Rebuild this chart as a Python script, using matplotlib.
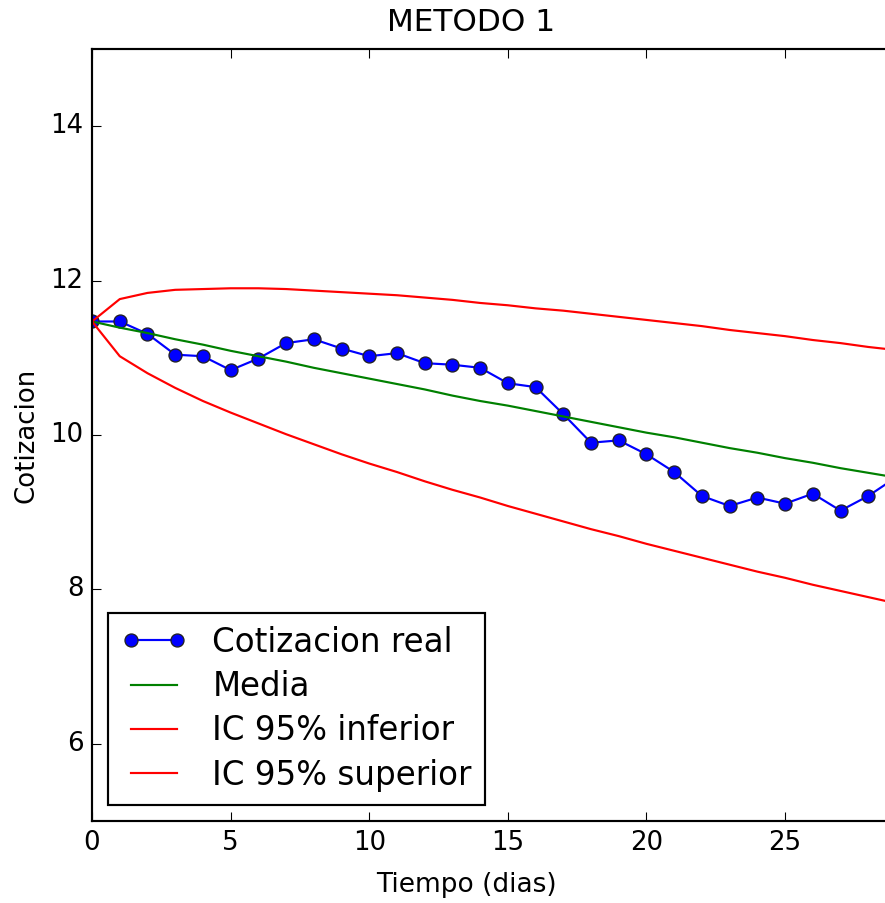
#!/usr/bin/env python3

import matplotlib
matplotlib.use("Agg")
import matplotlib.pyplot as plt


# dias observados y cotizacion real
DIAS_REAL = list(range(0, 30))
COTIZACION_REAL = [
    11.47, 11.47, 11.31, 11.04, 11.02, 10.84, 10.99, 11.19, 11.24, 11.12,
    11.02, 11.06, 10.93, 10.91, 10.87, 10.67, 10.62, 10.27, 9.90, 9.93,
    9.75, 9.52, 9.21, 9.08, 9.19, 9.11, 9.24, 9.02, 9.21, 9.45,
]

# horizonte de la simulacion
DIAS_SIM = list(range(0, 31))
MEDIA = [
    11.47, 11.39, 11.32, 11.24, 11.17, 11.09, 11.02, 10.95, 10.87, 10.80,
    10.73, 10.66, 10.59, 10.51, 10.44, 10.38, 10.31, 10.24, 10.17, 10.10,
    10.03, 9.97, 9.90, 9.83, 9.77, 9.70, 9.64, 9.57, 9.51, 9.45, 9.38,
]
IC_INFERIOR = [
    11.47, 11.02, 10.80, 10.61, 10.44, 10.29, 10.15, 10.01, 9.88, 9.75,
    9.63, 9.52, 9.40, 9.29, 9.19, 9.08, 8.98, 8.88, 8.78, 8.69,
    8.59, 8.50, 8.41, 8.32, 8.23, 8.15, 8.06, 7.98, 7.90, 7.82, 7.74,
]
IC_SUPERIOR = [
    11.47, 11.76, 11.84, 11.88, 11.89, 11.90, 11.90, 11.89, 11.87, 11.85,
    11.83, 11.81, 11.78, 11.75, 11.71, 11.68, 11.64, 11.61, 11.57, 11.53,
    11.49, 11.45, 11.41, 11.36, 11.32, 11.28, 11.23, 11.19, 11.14, 11.10, 11.05,
]

X_TICKS = [0, 5, 10, 15, 20, 25]
Y_TICKS = [6, 8, 10, 12, 14]

DPI = 156


def main() -> None:
    plt.style.use("classic")
    plt.rcParams["font.family"] = ["DejaVu Sans"]

    fig = plt.figure(figsize=(885 / DPI, 903 / DPI), dpi=DPI, facecolor="white")
    # the axes run on past the right edge (x=30 is cut off, as in the original)
    ax = fig.add_axes([0.104, 0.0908, 0.9397, 0.855])

    ax.plot(DIAS_REAL, COTIZACION_REAL, "b-o", markeredgecolor="#222222",
            markeredgewidth=0.6, label="Cotizacion real")
    ax.plot(DIAS_SIM, MEDIA, "g-", label="Media")
    ax.plot(DIAS_SIM, IC_INFERIOR, "r-", label="IC 95% inferior")
    ax.plot(DIAS_SIM, IC_SUPERIOR, "r-", label="IC 95% superior")

    ax.set_xlim(0, 30)
    ax.set_ylim(5, 15)
    ax.set_xticks(X_TICKS)
    ax.set_yticks(Y_TICKS)
    ax.set_xlabel("Tiempo (dias)", fontsize=12.2)
    ax.xaxis.set_label_coords(0.4497, -0.066)
    ax.set_ylabel("Cotizacion")
    ax.set_title("METODO 1", fontsize=14.4, x=0.4557, pad=8.5)
    ax.legend(loc="lower left", numpoints=2, fontsize=15, labelspacing=0.35)

    fig.savefig("out.png", dpi=DPI, facecolor="white")
    plt.close(fig)


if __name__ == "__main__":
    main()
